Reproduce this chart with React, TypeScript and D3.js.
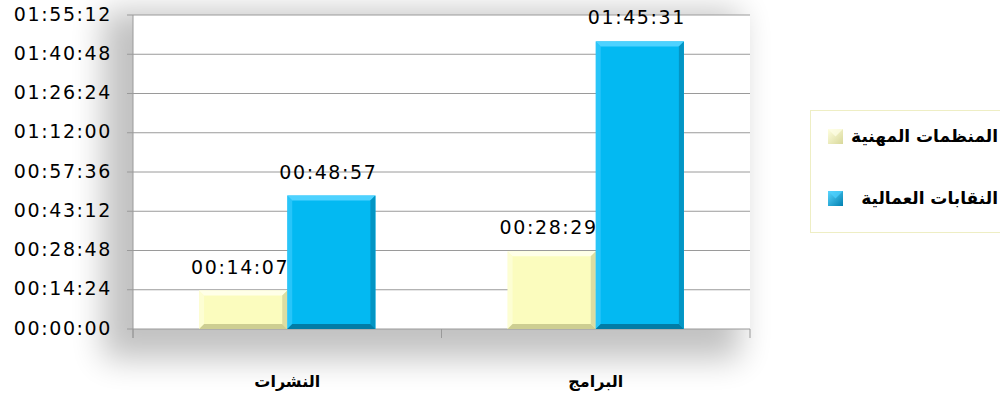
import React from "react";
import * as d3 from "d3";

const categories = ["النشرات", "البرامج"];
const seriesNames = ["المنظمات المهنية", "النقابات العمالية"];
// values in seconds
const professionalOrgs = [847, 1709]; // 00:14:07, 00:28:29
const laborUnions = [2937, 6331]; // 00:48:57, 01:45:31
const yTicks = [0, 864, 1728, 2592, 3456, 4320, 5184, 6048, 6912];

const W = 1000;
const H = 403;
const M = { left: 133, right: 750, top: 15, bottom: 329 };

const fills = [
  { base: "#FBFCBE", light: "#FFFFE8", dark: "#DCDDA2", darker: "#CDCE92" },
  { base: "#03B9F2", light: "#4ED2FF", dark: "#0395C4", darker: "#027CA6" },
];

function fmt(s: number) {
  const h = Math.floor(s / 3600);
  const m = Math.floor((s % 3600) / 60);
  const sec = s % 60;
  const p = (n: number) => String(n).padStart(2, "0");
  return `${p(h)}:${p(m)}:${p(sec)}`;
}

function Bar({ x, y, w, h, c }: { x: number; y: number; w: number; h: number; c: (typeof fills)[0] }) {
  const b = Math.min(5, h / 2);
  const x2 = x + w;
  const y2 = y + h;
  return (
    <g>
      <rect x={x} y={y} width={w} height={h} fill={c.base} />
      <polygon points={`${x},${y} ${x2},${y} ${x2 - b},${y + b} ${x + b},${y + b}`} fill={c.light} />
      <polygon points={`${x},${y} ${x + b},${y + b} ${x + b},${y2 - b} ${x},${y2}`} fill={c.light} opacity={0.5} />
      <polygon points={`${x2},${y} ${x2},${y2} ${x2 - b},${y2 - b} ${x2 - b},${y + b}`} fill={c.dark} />
      <polygon points={`${x},${y2} ${x2},${y2} ${x2 - b},${y2 - b} ${x + b},${y2 - b}`} fill={c.darker} />
    </g>
  );
}

export default function App() {
  const x0 = d3.scaleBand<string>().domain(categories).range([M.left, M.right]).padding(0);
  const x1 = d3
    .scaleBand<string>()
    .domain(seriesNames)
    .range([0, x0.bandwidth()])
    .paddingInner(0)
    .paddingOuter(0.75);
  const y = d3.scaleLinear().domain([0, 6912]).range([M.bottom, M.top]);
  const series = [professionalOrgs, laborUnions];
  const numFont = "'DejaVu Sans', sans-serif";
  const arFont = "'DejaVu Sans', sans-serif";

  return (
    <svg
      width={W}
      height={H}
      style={{ position: "absolute", left: 0, top: 0, background: "#fff" }}
    >
      <defs>
        <filter id="shadow" x="-30%" y="-30%" width="160%" height="160%">
          <feGaussianBlur stdDeviation="16" />
        </filter>
        <linearGradient id="lg0" x1="0" y1="0" x2="1" y2="1">
          <stop offset="0" stopColor="#FFFFE0" />
          <stop offset="1" stopColor="#D8D89A" />
        </linearGradient>
        <linearGradient id="lg1" x1="0" y1="0" x2="1" y2="1">
          <stop offset="0" stopColor="#5AD6FF" />
          <stop offset="1" stopColor="#0280B0" />
        </linearGradient>
      </defs>
      {/* plot shadow */}
      <rect
        x={M.left - 30}
        y={M.top - 4}
        width={M.right - M.left + 20}
        height={M.bottom - M.top + 34}
        fill="#000"
        opacity={0.24}
        filter="url(#shadow)"
      />
      <rect x={M.left} y={M.top} width={M.right - M.left} height={M.bottom - M.top} fill="#fff" />

      {/* gridlines + y ticks */}
      {yTicks.map((t) => (
        <g key={t}>
          <line x1={M.left - 6} x2={M.right} y1={y(t)} y2={y(t)} stroke="#9a9a9a" strokeWidth={1} />
          <text
            x={112}
            y={y(t)}
            textAnchor="end"
            dominantBaseline="middle"
            fontFamily={numFont}
            fontSize={19}
            letterSpacing={1.6}
            fill="#000"
          >
            {fmt(t)}
          </text>
        </g>
      ))}
      {/* y axis line */}
      <line x1={M.left} x2={M.left} y1={M.top} y2={M.bottom + 9} stroke="#9a9a9a" />
      {/* x axis category ticks */}
      {[...categories.map((c) => x0(c)!), M.right].map((xx, i) => (
        <line key={i} x1={xx} x2={xx} y1={M.bottom} y2={M.bottom + 9} stroke="#9a9a9a" />
      ))}

      {/* bars */}
      {categories.map((cat, ci) => (
        <g key={cat}>
          {seriesNames.map((s, si) => {
            const v = series[si][ci];
            const bx = x0(cat)! + x1(s)!;
            const by = y(v);
            return (
              <Bar key={s} x={bx} y={by} w={x1.bandwidth()} h={M.bottom - by} c={fills[si]} />
            );
          })}
        </g>
      ))}
      {/* data labels */}
      {categories.map((cat, ci) =>
        seriesNames.map((s, si) => {
          const v = series[si][ci];
          const cx = x0(cat)! + x1(s)! + x1.bandwidth() / 2;
          return (
            <text
              key={cat + s}
              x={cx - 3}
              y={y(v) - 17}
              textAnchor="middle"
              fontFamily={numFont}
              fontSize={19}
              letterSpacing={1.6}
              fill="#000"
            >
              {fmt(v)}
            </text>
          );
        })
      )}

      {/* category labels */}
      {categories.map((cat) => (
        <text
          key={cat}
          x={x0(cat)! + x0.bandwidth() / 2}
          y={387}
          textAnchor="middle"
          fontFamily={arFont}
          fontWeight="bold"
          fontSize={16}
          fill="#000"
        >
          {cat}
        </text>
      ))}

      {/* legend */}
      <rect x={810.5} y={110.5} width={200} height={122} fill="#fff" stroke="#EEEEC4" />
      {seriesNames.map((s, i) => (
        <g key={s}>
          <rect x={828} y={129 + i * 62} width={15} height={15} fill={`url(#lg${i})`} />
          <polygon
            points={`${828},${129 + i * 62} ${843},${129 + i * 62} ${835.5},${136.5 + i * 62}`}
            fill={fills[i].light}
            opacity={0.7}
          />
          <text
            x={998}
            y={142 + i * 62}
            textAnchor="end"
            fontFamily={arFont}
            fontWeight="bold"
            fontSize={17}
            fill="#000"
          >
            {s}
          </text>
        </g>
      ))}
    </svg>
  );
}
